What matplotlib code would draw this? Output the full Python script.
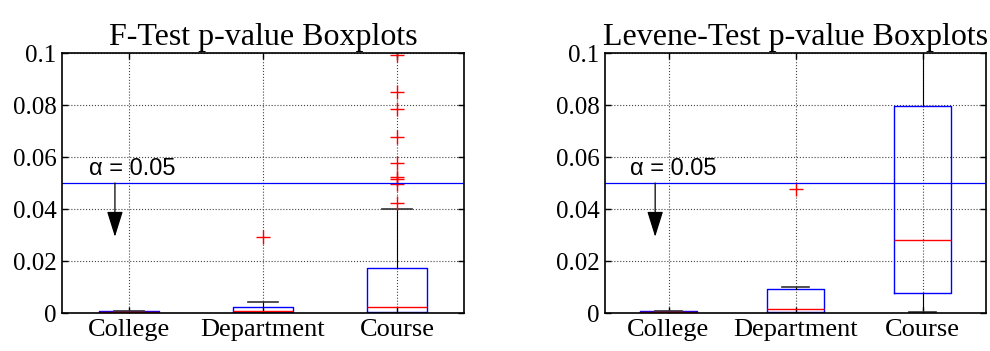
import matplotlib
matplotlib.use("Agg")
import matplotlib.pyplot as plt

# ---- data ----
groups = ["College", "Department", "Course"]
alpha = 0.05

# F-test p-values
f_q1 = [0.0002, 0.0003, 0.0005]
f_med = [0.0005, 0.0006, 0.0023]
f_q3 = [0.0007, 0.0022, 0.0172]
f_lo = [0.0, 0.0, 0.0]
f_hi = [0.0009, 0.0041, 0.0399]
f_out = [[], [0.0293],
         [0.0992, 0.0849, 0.0783, 0.0677, 0.0576, 0.0522, 0.0517, 0.0496, 0.0422]]

# Levene-test p-values
l_q1 = [0.0002, 0.0005, 0.0076]
l_med = [0.0005, 0.0015, 0.0280]
l_q3 = [0.0007, 0.0093, 0.0796]
l_lo = [0.0, 0.0, 0.0003]
l_hi = [0.0009, 0.0101, 0.18]
l_out = [[], [0.0477], []]

titles = ["F-Test p-value Boxplots", "Levene-Test p-value Boxplots"]
yticks = [0, 0.02, 0.04, 0.06, 0.08, 0.1]
ytick_labels = ["0", "0.02", "0.04", "0.06", "0.08", "0.1"]
arrow_tip = 0.0293

SERIF = "Liberation Serif"
SANS = "Liberation Sans"


def make_stats(q1, med, q3, lo, hi, out):
    stats = []
    for i in range(len(groups)):
        stats.append(dict(q1=q1[i], med=med[i], q3=q3[i],
                          whislo=lo[i], whishi=hi[i], fliers=out[i]))
    return stats


def draw_panel(ax, stats, title):
    pos = [1, 2, 3]
    ax.bxp(stats, positions=pos, widths=0.45, capwidths=0.22,
           showfliers=True, patch_artist=False,
           boxprops=dict(color="#0000ff", linewidth=1.0),
           medianprops=dict(color="#ff0000", linewidth=1.0),
           whiskerprops=dict(color="black", linewidth=0.8, linestyle="-"),
           capprops=dict(color="#333333", linewidth=1.2),
           flierprops=dict(marker="+", markeredgecolor="#ff0000",
                           markersize=10, markeredgewidth=1.0, linestyle="none"))
    ax.set_xlim(0.5, 3.5)
    ax.set_ylim(0, 0.1)
    ax.set_xticks(pos)
    ax.set_xticklabels(groups, fontfamily=SERIF, fontsize=19)
    ax.set_yticks(yticks)
    ax.set_yticklabels(ytick_labels, fontfamily=SERIF, fontsize=18)
    ax.tick_params(direction="in", top=True, right=True, length=4,
                   width=1.0, pad=4)
    ax.grid(True, color="#444444", linestyle=":", linewidth=0.8)
    ax.set_axisbelow(True)
    for s in ax.spines.values():
        s.set_linewidth(1.2)
    ax.set_title(title, fontfamily=SERIF, fontsize=23, pad=6)

    ax.axhline(alpha, color="#0000ff", linewidth=0.9)
    ax.annotate("", xy=(0.895, arrow_tip), xytext=(0.895, alpha),
                arrowprops=dict(arrowstyle="-|>,head_length=1.6,head_width=0.5",
                                color="black", lw=0.9, shrinkA=0, shrinkB=0))
    ax.text(0.70, alpha + 0.0013, "\u03b1 = 0.05", fontfamily=SANS,
            fontsize=17, ha="left", va="bottom")


fig = plt.figure(figsize=(9.9, 3.51), dpi=100)
ax1 = fig.add_axes([62 / 990, 38 / 351, 402 / 990, 260 / 351])
ax2 = fig.add_axes([605 / 990, 38 / 351, 381 / 990, 260 / 351])

draw_panel(ax1, make_stats(f_q1, f_med, f_q3, f_lo, f_hi, f_out), titles[0])
draw_panel(ax2, make_stats(l_q1, l_med, l_q3, l_lo, l_hi, l_out), titles[1])

fig.savefig("out.png", dpi=100)
